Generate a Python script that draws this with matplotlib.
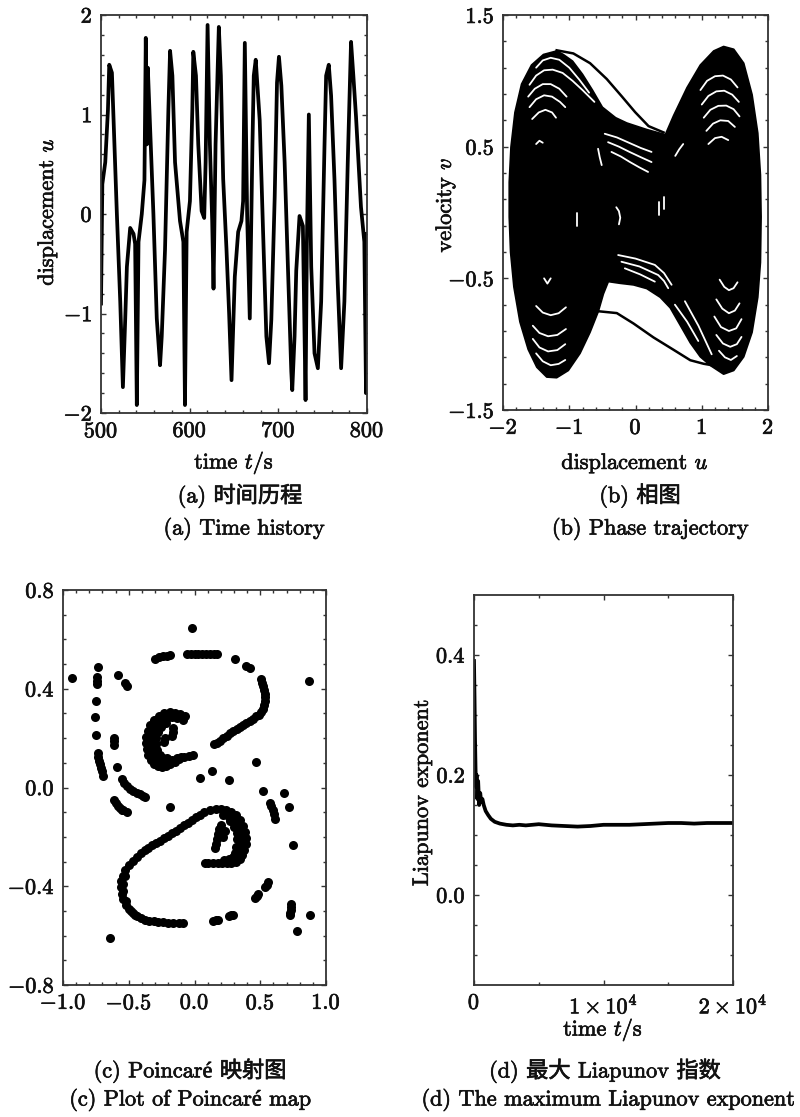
import numpy as np
import matplotlib
matplotlib.use("Agg")
import matplotlib.pyplot as plt
import matplotlib.patheffects as pe
from matplotlib.ticker import FixedLocator, MultipleLocator, FuncFormatter

# ---- (a) time history ----
t_a = [500, 501.5, 504.8, 507.8, 509.3, 512.3, 514.2, 517.9, 521.7, 524.7, 527.3, 529.2,
       532.9, 536.7, 538.5, 540.4, 542.3, 546, 549, 550.5, 551.7, 552.8, 554.6, 559.1,
       562.9, 566.6, 568.5, 572.2, 576, 577.9, 580.5, 583.5, 589.1, 592.9, 594.7, 596.6,
       600.3, 603, 604.1, 607.1, 609.7, 613.5, 616.4, 618, 620.2, 622.8, 625.4, 626.9,
       629.2, 632.9, 635.2, 637.8, 641.5, 644.5, 647.2, 650.9, 654.7, 658.4, 660.3, 662.2,
       664.8, 667.8, 670.8, 672.3, 674.5, 679, 682.8, 686.5, 689.5, 692.1, 695.9, 698.5,
       700.7, 703.4, 707.1, 710.8, 714.6, 715.7, 718.3, 720.2, 723.9, 727.7, 730.7, 732.2,
       734.4, 737.1, 740.8, 744.6, 748.3, 752.1, 753.9, 756.9, 759.5, 763.3, 767, 770.8,
       774.5, 778.3, 782, 784.6, 787.6, 793.2, 797, 798.9, 800]
u_a = [-0.9, 0.3, 0.52, 1.04, 1.5, 1.42, 0.94, 0.0, -0.88, -1.74, -1.06, -0.53,
       -0.14, -0.2, -0.3, -1.92, -0.28, 0.0, 0.34, 1.77, 0.7, 1.47, 1.05, 0.0,
       -1.05, -1.52, -1.23, -0.36, 1.05, 1.64, 1.39, 0.52, -0.07, -0.28, -1.92, -0.18,
       0.13, 1.05, 1.63, 1.39, 0.7, 0.03, -0.04, 0.52, 1.9, 0.7, -0.07, -0.75,
       0.7, 1.88, 1.39, 0.35, -0.35, -1.0, -1.67, -0.63, -0.18, -0.07, 0.13, 1.72,
       0.0, -1.05, 0.7, 1.39, 1.55, 0.94, -0.18, -1.23, -1.5, -1.06, 0.17, 1.32,
       1.58, 1.29, 0.52, -0.53, -1.58, -1.77, -1.23, -0.57, -0.02, -0.12, -1.87, -0.29,
       1.0, -0.53, -1.4, -1.55, -0.88, 0.7, 1.39, 1.5, 1.19, 0.35, -0.7, -1.55,
       -0.88, 0.52, 1.73, 1.39, 0.98, 0.07, -0.28, -1.8, -0.2]

# ---- (b) phase trajectory: outline of the filled band and its white gaps ----
band_u = [-1.09, -1.19, -1.39, -1.57, -1.72, -1.82, -1.88, -1.906, -1.906, -1.886, -1.836,
          -1.745, -1.62, -1.49, -1.34, -1.19, -1.014, -0.837, -0.686, -0.56, -0.484, -0.41,
          -0.232, -0.03, 0.17, 0.373, 0.524, 0.676, 0.827, 0.978, 1.13, 1.33, 1.483, 1.634,
          1.76, 1.846, 1.886, 1.896, 1.886, 1.846, 1.76, 1.634, 1.483, 1.33, 1.18, 0.978,
          0.777, 0.575, 0.449, 0.424, 0.171, -0.131, -0.3, -0.5, -0.65, -0.8, -0.95]
band_v = [1.2, 1.227, 1.2, 1.12, 0.975, 0.76, 0.497, 0.23, -0.034, -0.3, -0.565,
          -0.83, -1.04, -1.175, -1.25, -1.255, -1.2, -1.07, -0.91, -0.75, -0.618, -0.525,
          -0.538, -0.55, -0.578, -0.644, -0.724, -0.857, -0.99, -1.096, -1.162, -1.228, -1.2, -1.096,
          -0.91, -0.644, -0.379, -0.034, 0.285, 0.603, 0.895, 1.134, 1.24, 1.261, 1.227, 1.12,
          0.948, 0.736, 0.59, 0.595, 0.63, 0.68, 0.72, 0.8, 0.93, 1.05, 1.15]
top_u = [-1.19, -0.938, -0.686, -0.434, -0.207, -0.005, 0.197, 0.424]
top_v = [1.232, 1.208, 1.134, 1.014, 0.882, 0.762, 0.656, 0.608]
bot_u = [-0.56, -0.282, -0.03, 0.272, 0.575, 0.827, 1.029, 1.18]
bot_v = [-0.75, -0.764, -0.843, -0.949, -1.043, -1.122, -1.149, -1.162]
gaps_b = [
    # left lobe, upper arcs
    ([-1.5, -1.4, -1.28, -1.15, -1.0, -0.85, -0.7], [1.1, 1.155, 1.175, 1.16, 1.1, 1.01, 0.91]),
    ([-1.6, -1.5, -1.38, -1.25, -1.1, -0.95, -0.8, -0.62], [0.97, 1.04, 1.08, 1.085, 1.06, 1.0, 0.93, 0.84]),
    ([-1.62, -1.52, -1.4, -1.28, -1.15, -1.04], [0.88, 0.94, 0.975, 0.975, 0.94, 0.88]),
    ([-1.6, -1.5, -1.38, -1.26, -1.14, -1.06], [0.8, 0.86, 0.89, 0.88, 0.84, 0.8]),
    ([-1.56, -1.46, -1.36, -1.26, -1.2], [0.71, 0.76, 0.78, 0.76, 0.72]),
    ([-1.5, -1.45, -1.4], [0.52, 0.545, 0.53]),
    # right lobe, upper arcs
    ([0.98, 1.08, 1.2, 1.32, 1.44, 1.54], [0.93, 1.0, 1.035, 1.04, 1.01, 0.95]),
    ([1.0, 1.1, 1.22, 1.34, 1.46, 1.56], [0.82, 0.885, 0.92, 0.925, 0.895, 0.84]),
    ([1.03, 1.13, 1.25, 1.37, 1.48, 1.57], [0.72, 0.78, 0.81, 0.812, 0.785, 0.73]),
    ([1.07, 1.17, 1.28, 1.4, 1.5], [0.62, 0.675, 0.7, 0.695, 0.65]),
    ([1.1, 1.2, 1.3, 1.4], [0.52, 0.565, 0.575, 0.55]),
    # left lobe, lower arcs
    ([-1.38, -1.33, -1.28], [-0.5, -0.54, -0.5]),
    ([-1.5, -1.4, -1.28, -1.16, -1.05], [-0.71, -0.76, -0.78, -0.765, -0.72]),
    ([-1.55, -1.45, -1.32, -1.18, -1.05], [-0.86, -0.915, -0.94, -0.93, -0.885]),
    ([-1.55, -1.45, -1.32, -1.18, -1.06], [-0.96, -1.025, -1.055, -1.045, -1.0]),
    ([-1.5, -1.4, -1.28, -1.16, -1.06], [-1.07, -1.13, -1.16, -1.15, -1.12]),
    # right lobe, lower arcs
    ([1.27, 1.34, 1.41, 1.48, 1.54], [-0.51, -0.565, -0.59, -0.575, -0.53]),
    ([1.22, 1.31, 1.41, 1.5, 1.57], [-0.66, -0.73, -0.765, -0.745, -0.69]),
    ([1.19, 1.29, 1.41, 1.52, 1.6], [-0.79, -0.87, -0.9, -0.88, -0.81]),
    ([1.22, 1.32, 1.43, 1.53, 1.6], [-0.93, -0.995, -1.02, -1.0, -0.945]),
    ([1.26, 1.35, 1.44, 1.53], [-1.05, -1.1, -1.12, -1.09]),
    # centre, upper fan
    ([-0.464, -0.28, -0.1, 0.08, 0.242], [0.598, 0.57, 0.53, 0.49, 0.46]),
    ([-0.414, -0.25, -0.09, 0.08, 0.242], [0.534, 0.5, 0.46, 0.42, 0.383]),
    ([-0.363, -0.22, -0.09, 0.05, 0.19], [0.46, 0.425, 0.385, 0.345, 0.308]),
    ([-0.565, -0.54, -0.51], [0.484, 0.42, 0.36]),
    # centre, lower fan
    ([-0.262, 0.0, 0.292, 0.43, 0.545], [-0.323, -0.35, -0.398, -0.46, -0.549]),
    ([-0.212, 0.06, 0.343, 0.43, 0.494], [-0.374, -0.41, -0.475, -0.52, -0.575]),
    ([-0.161, 0.07, 0.292], [-0.424, -0.47, -0.525]),
    ([0.595, 0.78, 0.948], [-0.7, -0.83, -0.976]),
    ([0.746, 0.95, 1.15], [-0.674, -0.86, -1.077]),
    # small marks near the middle
    ([-0.29, -0.25, -0.23, -0.25], [0.04, 0.01, -0.04, -0.09]),
    ([-0.88, -0.88], [0.0, -0.1]),
    ([0.35, 0.35], [0.08, -0.02]),
    ([0.43, 0.43], [0.12, 0.03]),
    ([0.6, 0.66, 0.72], [0.43, 0.48, 0.52]),
]

# ---- (c) Poincare section points ----
pc_x = [-0.02, -0.30, -0.27, -0.24, -0.21, -0.185,
        -0.06, -0.03, 0.0, 0.03, 0.06, 0.09, 0.12, 0.15, 0.17, 0.31, 0.395, 0.42,
        0.505, 0.515, 0.522, 0.53, 0.535, 0.537, 0.535, 0.53, 0.52, 0.505, 0.49,
        0.47, 0.445, 0.42, 0.395, 0.37, 0.345, 0.32, 0.295, 0.27, 0.245, 0.22, 0.195, 0.17, 0.145,
        0.873, -0.932,
        -0.734, -0.742, -0.742, -0.742, -0.747, -0.754, -0.749, -0.737, -0.732, -0.724, -0.718,
        -0.711, -0.705, -0.699,
        -0.585, -0.525, -0.514, -0.61, -0.61, -0.61, -0.59,
        -0.55, -0.535, -0.515, -0.49, -0.465, -0.44, -0.415, -0.39, -0.375,
        -0.615, -0.6, -0.585, -0.57, -0.555, -0.54, -0.51,
        -0.185, 0.043, 0.132, 0.266, 0.468, 0.519, 0.684, 0.722,
        0.575, 0.585, 0.595, 0.605, 0.613, 0.752,
        # upper crescent
        -0.07, -0.11, -0.15, -0.19, -0.23, -0.27, -0.305, -0.335, -0.355, -0.37, -0.372, -0.365,
        -0.35, -0.33, -0.305, -0.275, -0.245, -0.215, -0.185, -0.15, -0.115, -0.08, -0.045, -0.015,
        -0.09, -0.13, -0.17, -0.21, -0.25, -0.285, -0.31, -0.325, -0.33, -0.325, -0.31, -0.29,
        -0.26, -0.23, -0.2, -0.17, -0.135, -0.1,
        -0.22, -0.255, -0.28, -0.295, -0.295, -0.285, -0.265, -0.24, -0.21,
        -0.3, -0.34, -0.345, -0.34, -0.32, -0.29, -0.27, -0.31, -0.33, -0.26,
        -0.16, -0.165, -0.172, -0.225, -0.23,
        # lower hook
        0.12, 0.16, 0.2, 0.24, 0.28, 0.315, 0.345, 0.37, 0.385, 0.39, 0.388, 0.38, 0.365, 0.345,
        0.315, 0.28, 0.245, 0.21, 0.175, 0.14, 0.105, 0.08,
        0.22, 0.26, 0.295, 0.325, 0.345, 0.355, 0.355, 0.345, 0.325, 0.295, 0.26, 0.225,
        0.3, 0.32, 0.325, 0.315, 0.27, 0.31, 0.335, 0.34, 0.33, 0.36, 0.37, 0.365,
        0.2, 0.19, 0.18, 0.17, 0.16, 0.155, 0.23, 0.22,
        # long lower arc
        0.07, 0.04, 0.01, -0.02, -0.05, -0.08, -0.11, -0.14, -0.17, -0.2, -0.23, -0.26, -0.29,
        -0.32, -0.35, -0.38, -0.41, -0.44, -0.47, -0.5, -0.525, -0.545, -0.558, -0.562, -0.555,
        -0.54, -0.52, -0.495, -0.465, -0.435, -0.405, -0.375, -0.345, -0.31, -0.275, -0.24,
        -0.2, -0.16, -0.12, -0.085,
        -0.53, -0.545, -0.54, -0.52, -0.48, -0.45,
        0.144, 0.165, 0.182, 0.26, 0.28, 0.296, -0.641,
        0.562, 0.55, 0.537, 0.486, 0.475, 0.461,
        0.734, 0.733, 0.732, 0.73, 0.727, 0.878, 0.777]
pc_y = [0.646, 0.522, 0.527, 0.531, 0.534, 0.536,
        0.542, 0.542, 0.542, 0.542, 0.542, 0.541, 0.541, 0.540, 0.540, 0.522, 0.492, 0.484,
        0.44, 0.425, 0.41, 0.395, 0.38, 0.365, 0.35, 0.335, 0.32, 0.305, 0.295,
        0.288, 0.279, 0.27, 0.262, 0.254, 0.246, 0.237, 0.228, 0.219, 0.21, 0.2, 0.19, 0.182, 0.175,
        0.43, 0.444,
        0.49, 0.447, 0.433, 0.42, 0.351, 0.284, 0.213, 0.138, 0.125, 0.109, 0.095,
        0.081, 0.065, 0.045,
        0.454, 0.425, 0.412, 0.2, 0.188, 0.173, 0.083,
        0.035, 0.02, 0.007, -0.005, -0.014, -0.022, -0.028, -0.034, -0.037,
        -0.052, -0.062, -0.073, -0.082, -0.09, -0.093, -0.1,
        -0.079, 0.038, 0.066, 0.031, 0.102, -0.015, -0.022, -0.079,
        -0.062, -0.075, -0.09, -0.108, -0.126, -0.233,
        0.29, 0.298, 0.303, 0.305, 0.3, 0.29, 0.275, 0.255, 0.23, 0.205, 0.18, 0.155,
        0.132, 0.112, 0.097, 0.088, 0.085, 0.088, 0.095, 0.105, 0.115, 0.122, 0.127, 0.13,
        0.275, 0.283, 0.285, 0.28, 0.27, 0.255, 0.235, 0.21, 0.185, 0.16, 0.138, 0.12,
        0.108, 0.103, 0.105, 0.11, 0.118, 0.123,
        0.26, 0.245, 0.225, 0.2, 0.175, 0.15, 0.13, 0.12, 0.118,
        0.25, 0.22, 0.19, 0.16, 0.13, 0.1, 0.27, 0.26, 0.24, 0.09,
        0.24, 0.225, 0.21, 0.2, 0.185,
        -0.09, -0.088, -0.088, -0.092, -0.1, -0.112, -0.13, -0.155, -0.18, -0.205, -0.23, -0.255,
        -0.275, -0.29, -0.3, -0.304, -0.305, -0.305, -0.305, -0.305, -0.305, -0.304,
        -0.11, -0.118, -0.13, -0.15, -0.175, -0.2, -0.225, -0.25, -0.27, -0.283, -0.29, -0.293,
        -0.16, -0.185, -0.21, -0.24, -0.135, -0.265, -0.14, -0.19, -0.26, -0.17, -0.21, -0.245,
        -0.15, -0.17, -0.19, -0.21, -0.23, -0.245, -0.175, -0.2,
        -0.1, -0.11, -0.12, -0.13, -0.142, -0.153, -0.165, -0.175, -0.186, -0.196, -0.205, -0.215,
        -0.225, -0.234, -0.244, -0.255, -0.266, -0.28, -0.296, -0.315, -0.335, -0.357, -0.38,
        -0.405, -0.43, -0.453, -0.474, -0.492, -0.508, -0.52, -0.53, -0.537, -0.54, -0.542,
        -0.544, -0.546, -0.547, -0.548, -0.548, -0.548,
        -0.36, -0.39, -0.42, -0.46, -0.5, -0.515,
        -0.539, -0.538, -0.536, -0.52, -0.518, -0.515, -0.61,
        -0.382, -0.393, -0.404, -0.432, -0.44, -0.446,
        -0.472, -0.484, -0.496, -0.508, -0.518, -0.518, -0.582]

# ---- (d) largest Liapunov exponent ----
t_d = [0, 40, 80, 120, 160, 200, 260, 320, 400, 480, 560, 650, 750, 900, 1100, 1300,
       1600, 2000, 2500, 3000, 3500, 4000, 4500, 5000, 5500, 6000, 7000, 8000, 9000,
       10000, 11000, 12000, 13000, 14000, 15000, 16000, 17000, 18000, 19000, 20000]
lam_d = [0.39, 0.33, 0.26, 0.21, 0.18, 0.2, 0.16, 0.19, 0.15, 0.17, 0.155, 0.16, 0.15,
         0.14, 0.133, 0.127, 0.122, 0.119, 0.117, 0.116, 0.117, 0.116, 0.117, 0.118, 0.117,
         0.116, 0.115, 0.114, 0.115, 0.117, 0.117, 0.117, 0.118, 0.119, 0.12, 0.12, 0.119,
         0.12, 0.12, 0.12]

plt.rcParams['font.family'] = ['cmr10', 'Liberation Serif', 'Noto Sans CJK SC']
plt.rcParams['mathtext.fontset'] = 'cm'
plt.rcParams['axes.unicode_minus'] = False
plt.rcParams['font.size'] = 16
ink = '#111111'
bold = [pe.withStroke(linewidth=0.5, foreground=ink)]

W, H = 800, 1117
fig = plt.figure(figsize=(W / 100, H / 100), dpi=100)


def box(l, t, r, b):
    return fig.add_axes([l / W, 1 - b / H, (r - l) / W, (b - t) / H])


def style(ax):
    ax.tick_params(which='both', direction='in', top=True, right=True,
                   width=1.0, color='#333333', labelcolor=ink)
    ax.tick_params(which='major', length=3.5, pad=6)
    ax.tick_params(which='minor', length=2.5)
    for s in ax.spines.values():
        s.set_linewidth(1.3)
        s.set_color('#333333')
    for lab in ax.get_xticklabels() + ax.get_yticklabels():
        lab.set_path_effects(bold)


def mfmt(fmt):
    return FuncFormatter(lambda x, p: '$' + (fmt % (x + 0.0 if abs(x) > 1e-9 else 0.0)) + '$')


def ftext(x, y, s, **kw):
    fig.text(x / W, 1 - y / H, s, ha='center', va='center', color=ink,
             path_effects=bold, **kw)


# (a)
ax1 = box(101, 15, 367, 413)
ax1.plot(t_a, u_a, color='black', lw=2.7, solid_joinstyle='round')
ax1.set_xlim(500, 800)
ax1.set_ylim(-2, 2)
ax1.xaxis.set_major_locator(MultipleLocator(100))
ax1.xaxis.set_minor_locator(MultipleLocator(20))
ax1.yaxis.set_major_locator(MultipleLocator(1))
ax1.yaxis.set_minor_locator(MultipleLocator(0.2))
ax1.xaxis.set_major_formatter(mfmt('%d'))
ax1.yaxis.set_major_formatter(mfmt('%d'))

# (b)
ax2 = box(503, 15, 768, 410)
ax2.fill(band_u, band_v, color='black', lw=1.2, joinstyle='round')
for gu, gv in gaps_b:
    ax2.plot(gu, gv, color='white', lw=1.3, solid_capstyle='round', solid_joinstyle='round')
ax2.plot(top_u, top_v, color='black', lw=1.8)
ax2.plot(bot_u, bot_v, color='black', lw=1.8)
ax2.set_xlim(-2, 2)
ax2.set_ylim(-1.5, 1.5)
ax2.xaxis.set_major_locator(MultipleLocator(1))
ax2.xaxis.set_minor_locator(MultipleLocator(0.2))
ax2.yaxis.set_major_locator(FixedLocator([-1.5, -0.5, 0.5, 1.5]))
ax2.yaxis.set_minor_locator(FixedLocator(np.arange(-1.5, 1.51, 0.2)))
ax2.xaxis.set_major_formatter(mfmt('%d'))
ax2.yaxis.set_major_formatter(mfmt('%.1f'))

# (c)
ax3 = box(63, 590, 326, 985)
ax3.plot(pc_x, pc_y, 'o', color='black', ms=6.5, mew=0)
ax3.set_xlim(-1, 1)
ax3.set_ylim(-0.8, 0.8)
ax3.xaxis.set_major_locator(MultipleLocator(0.5))
ax3.xaxis.set_minor_locator(MultipleLocator(0.1))
ax3.yaxis.set_major_locator(MultipleLocator(0.4))
ax3.yaxis.set_minor_locator(MultipleLocator(0.1))
ax3.xaxis.set_major_formatter(mfmt('%.1f'))
ax3.yaxis.set_major_formatter(mfmt('%.1f'))

# (d)
ax4 = box(474, 595, 733, 985)
ax4.plot(t_d, lam_d, color='black', lw=2.7)
ax4.set_xlim(0, 20000)
ax4.set_ylim(-0.15, 0.5)
ax4.xaxis.set_major_locator(FixedLocator([0, 10000, 20000]))
ax4.xaxis.set_minor_locator(FixedLocator([5000, 15000]))
ax4.yaxis.set_major_locator(FixedLocator([0.0, 0.2, 0.4]))
ax4.yaxis.set_minor_locator(FixedLocator(np.arange(-0.1, 0.5, 0.05)))
ax4.set_xticklabels(['$0$', r'$1\times10^4$', r'$2\times10^4$'])
ax4.yaxis.set_major_formatter(mfmt('%.1f'))

fig.canvas.draw()
for ax in (ax1, ax2, ax3, ax4):
    style(ax)

# axis labels
ftext(234, 463, 'time $t$/s')
ftext(635, 463, 'displacement $u$')
ftext(47, 212, 'displacement $u$', rotation=90)
ftext(445, 205, 'velocity $v$', rotation=90)
ftext(422, 793, 'Liapunov exponent', rotation=90)
ftext(603, 1030, 'time $t$/s')

# captions
ftext(240, 496, '(a) 时间历程')
ftext(244, 529, '(a) Time history')
ftext(640, 496, '(b) 相图')
ftext(650, 529, '(b) Phase trajectory')
ftext(190, 1071, '(c) Poincaré 映射图')
ftext(190, 1100, '(c) Plot of Poincaré map')
ftext(605, 1071, '(d) 最大 Liapunov 指数')
ftext(608, 1100, '(d) The maximum Liapunov exponent')

fig.savefig('out.png', dpi=100, facecolor='white')
